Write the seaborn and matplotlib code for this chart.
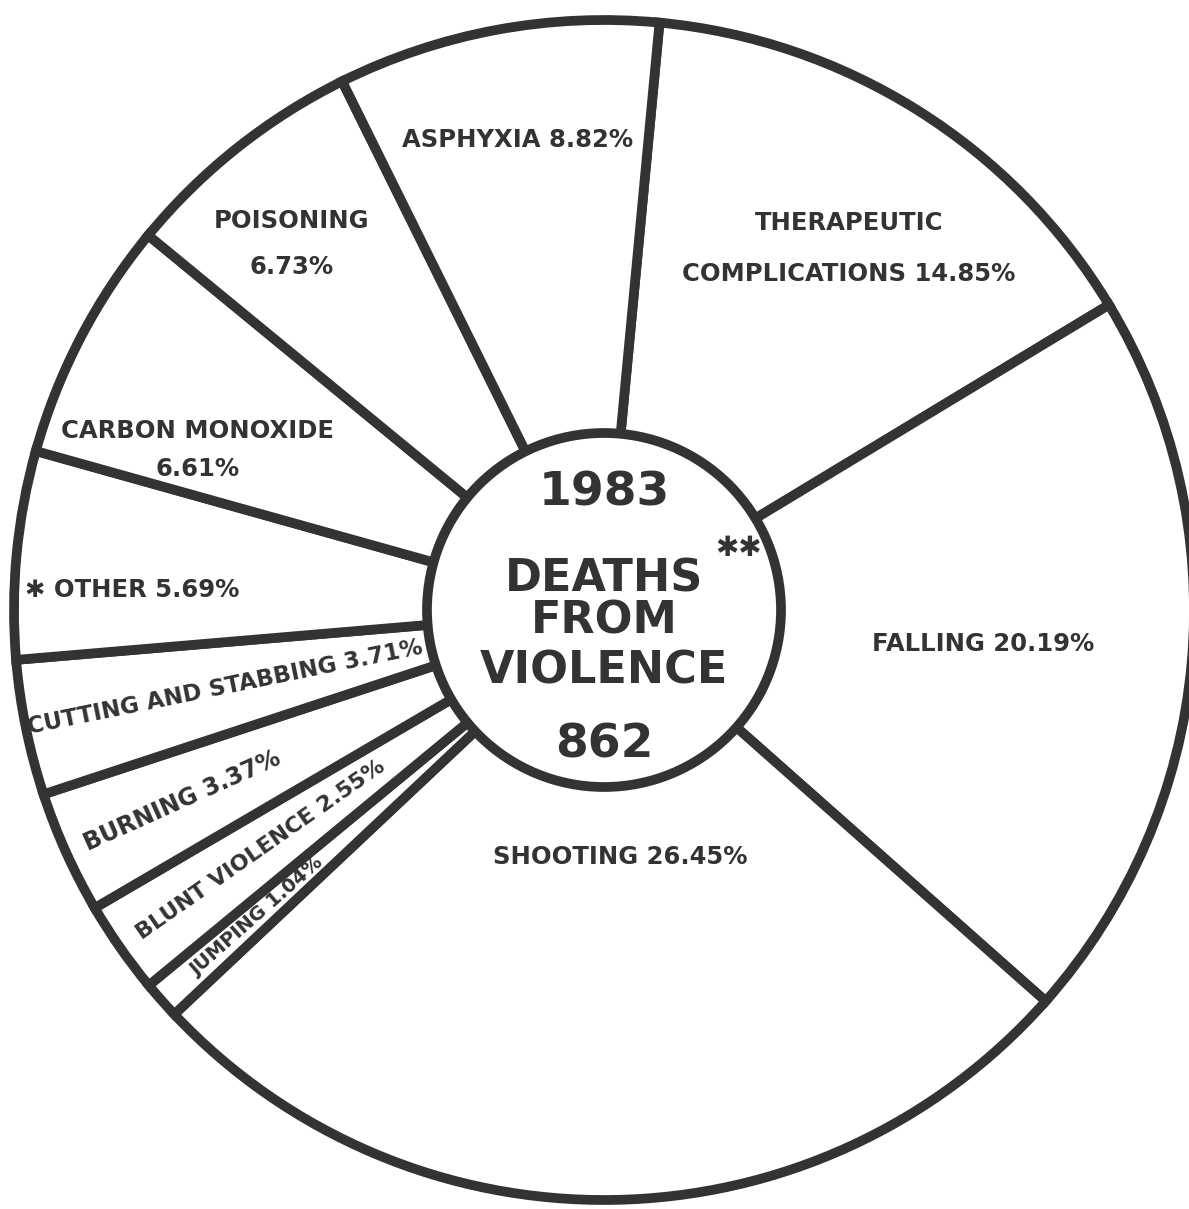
import numpy as np
import matplotlib
matplotlib.use("Agg")
import matplotlib.pyplot as plt
import seaborn as sns
from matplotlib.patches import Circle

# ---- data ----
categories = ["THERAPEUTIC\nCOMPLICATIONS", "FALLING", "SHOOTING", "JUMPING",
              "BLUNT VIOLENCE", "BURNING", "CUTTING AND STABBING", "\u2731 OTHER",
              "CARBON MONOXIDE", "POISONING", "ASPHYXIA"]
percentages = [14.85, 20.19, 26.45, 1.04, 2.55, 3.37, 3.71, 5.69, 6.61, 6.73, 8.82]
center_year = "1983"
center_title = "DEATHS\nFROM\nVIOLENCE"
center_total = "862"

# ---- style ----
label_sep = [" ", " ", " ", " ", " ", " ", " ", " ", "\n", "\n", " "]
label_radius = [0.74, 0.645, 0.42, 0.785, 0.71, 0.785, 0.655, 0.80, 0.74, 0.815, 0.81]
label_dtheta = [-2, 0, 3, 0, 0, 0, 0, 3, 6, 2, 0]
label_rotate = [False, False, False, True, True, True, True, False, False, False, False]
label_size = [17.5, 17.5, 17.5, 14, 16, 17, 16.5, 17.5, 17.5, 17.5, 17.5]
label_linespacing = [2.4, 1.2, 1.2, 1.2, 1.2, 1.2, 1.2, 1.2, 1.75, 2.15, 1.2]

sns.set_theme(style="white")
plt.rcParams['font.family'] = ['DejaVu Sans']

ink = "#333333"
W, H = 1189, 1209
fig = plt.figure(figsize=(W / 100, H / 100), dpi=100)
fig.patch.set_facecolor("white")
ax = fig.add_axes([0, 0, 1, 1])

cx, cy, R = 604, H - 610, 590
wedges, _ = ax.pie(percentages, startangle=84.6, counterclock=False,
                   colors=["white"] * len(percentages), radius=R, center=(cx, cy),
                   wedgeprops=dict(linewidth=7, edgecolor=ink, joinstyle="miter"),
                   frame=False)
ax.set_xlim(0, W)
ax.set_ylim(0, H)
ax.set_aspect("equal")
ax.axis("off")

for w, name, pct, sep, rf, dt, rot, fs, ls in zip(
        wedges, categories, percentages, label_sep, label_radius, label_dtheta,
        label_rotate, label_size, label_linespacing):
    mid_deg = (w.theta1 + w.theta2) / 2 + dt
    mid = np.deg2rad(mid_deg)
    x = cx + rf * R * np.cos(mid)
    y = cy + rf * R * np.sin(mid)
    txt = f"{name}{sep}{pct:.2f}%"
    angle = mid_deg - 180 if rot else 0
    ax.text(x, y, txt, ha="center", va="center", fontsize=fs, fontweight="bold",
            color=ink, rotation=angle, rotation_mode="anchor", linespacing=ls,
            multialignment="center", zorder=5)

inner = Circle((cx, cy), 177, facecolor="white", edgecolor=ink, linewidth=7, zorder=4)
ax.add_patch(inner)

ax.text(cx, cy + 105, center_year, ha="center", va="baseline", fontsize=34,
        fontweight="bold", color=ink, zorder=6)
offsets = [19, -24, -73]
for line, off in zip(center_title.split("\n"), offsets):
    ax.text(cx, cy + off, line, ha="center", va="baseline", fontsize=32,
            fontweight="bold", color=ink, zorder=6)
ax.text(cx + 134, cy + 62, "\u2731\u2731", ha="center", va="center", fontsize=20,
        fontweight="bold", color=ink, zorder=6)
ax.text(cx, cy - 147, center_total, ha="center", va="baseline", fontsize=34,
        fontweight="bold", color=ink, zorder=6)

fig.savefig("out.png", dpi=100, facecolor="white")
